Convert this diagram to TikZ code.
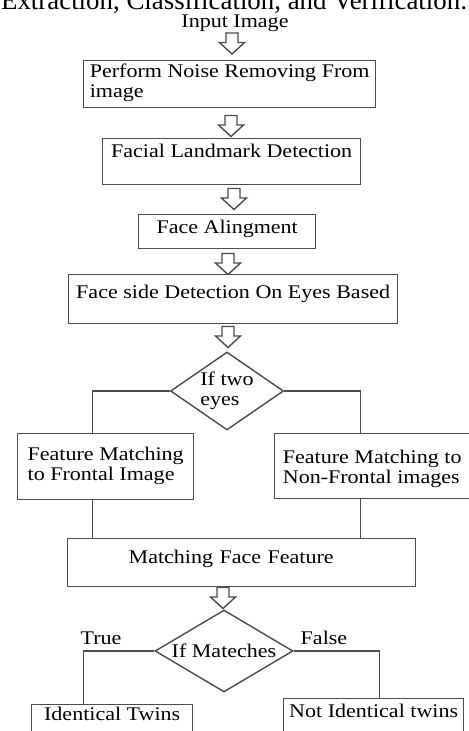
\documentclass[tikz,border=0pt]{standalone}
\usepackage{fontspec}
\setmainfont{Liberation Serif}[FakeStretch=1.14]
\newfontfamily\titlefont{Liberation Serif}
\usetikzlibrary{calc, positioning, shapes.geometric}

\begin{document}
\begin{tikzpicture} [x = 0.02cm, y = -0.02cm, line width = 0.8pt, font = \fontsize{11}{11.5}\selectfont,
  box/.style = {draw = black!70, rectangle, anchor = north west, inner sep = 0pt, align = left},
  decision/.style = {draw = black!70, diamond, inner sep = 0pt, align = left},
  wire/.style = {draw = black!70},
  hollow/.pic = {\draw [black!70, fill = white] (-6,-10.5) -- (6,-10.5) -- (6,-1) -- (12.5,-1) -- (0,10.5) -- (-12.5,-1) -- (-6,-1) -- cycle;}]

\useasboundingbox (0,0) rectangle (468,731);

\node (title) at (234,9) [anchor = base, font = \titlefont\fontsize{15.3}{18}\selectfont] {Extraction, Classification, and Verification.};
\node (input) at (235,27) [anchor = base] {Input Image};

\node [box, minimum width = 5.84cm, text height = 0.74cm, text depth = 0.20cm] (noise) at (83,60) {Perform Noise Removing From\\image};
\node [box, minimum width = 5.16cm, text height = 0.38cm, text depth = 0.54cm] (landmark) at (102,138) {Facial Landmark Detection};
\node [box, minimum width = 3.54cm, text height = 0.38cm, text depth = 0.30cm] (alignment) at (138,214) {Face Alingment};
\node [box, minimum width = 6.58cm, text height = 0.48cm, text depth = 0.50cm] (side) at (68,274) {Face side Detection On Eyes Based};

\node [decision, aspect = 1.45, minimum width = 2.26cm, minimum height = 1.56cm] (ifeyes) at (227,391) {If two\\eyes};

\node [box, minimum width = 3.52cm, text height = 0.94cm, text depth = 0.38cm] (frontal) at (17,433) {Feature Matching\\to Frontal Image};
\node [box, minimum width = 3.90cm, text height = 1.00cm, text depth = 0.30cm] (nonfrontal) at (274,433) {Feature Matching to\\Non-Frontal images};

\node [box, inner xsep = 1.22cm, text width = 4.52cm, text height = 0.50cm, text depth = 0.46cm] (match) at (67,538) {Matching Face Feature};

\node [decision, aspect = 1.68, minimum width = 2.76cm, minimum height = 1.64cm] (ifmatch) at (224,651) {If Mateches};

\node [box, align = center, minimum width = 3.22cm, text height = 0.32cm, text depth = 0.5cm] (twins) at (31,704) {Identical Twins};
\node [box, align = center, minimum width = 3.60cm, text height = 0.38cm, text depth = 0.5cm] (nottwins) at (283,698) {Not Identical twins};

\node (true) at (101,644) [anchor = base] {True};
\node (false) at (324,644) [anchor = base] {False};

\pic at (232,43.5) {hollow};
\pic at (231,126) {hollow};
\pic at (234,199) {hollow};
\pic at (228,264) {hollow};
\pic at (228,337) {hollow};
\pic at (223,598) {hollow};

\coordinate (f1) at ($(frontal.north west)!0.426!(frontal.north east)$);
\coordinate (f2) at ($(frontal.south west)!0.426!(frontal.south east)$);
\coordinate (n1) at ($(nonfrontal.north west)!0.441!(nonfrontal.north east)$);
\coordinate (n2) at ($(nonfrontal.south west)!0.441!(nonfrontal.south east)$);
\coordinate (t1) at ($(twins.north west)!0.323!(twins.north east)$);
\coordinate (t2) at ($(nottwins.north west)!0.533!(nottwins.north east)$);

\draw [wire] (ifeyes.west) -| (f1);
\draw [wire] (ifeyes.east) -| (n1);
\draw [wire] (f2) -- (f2 |- match.north);
\draw [wire] (n2) -- (n2 |- match.north);

\draw [wire] (ifmatch.west) -| (t1);
\draw [wire] (ifmatch.east) -| (t2);

\end{tikzpicture}
\end{document}
